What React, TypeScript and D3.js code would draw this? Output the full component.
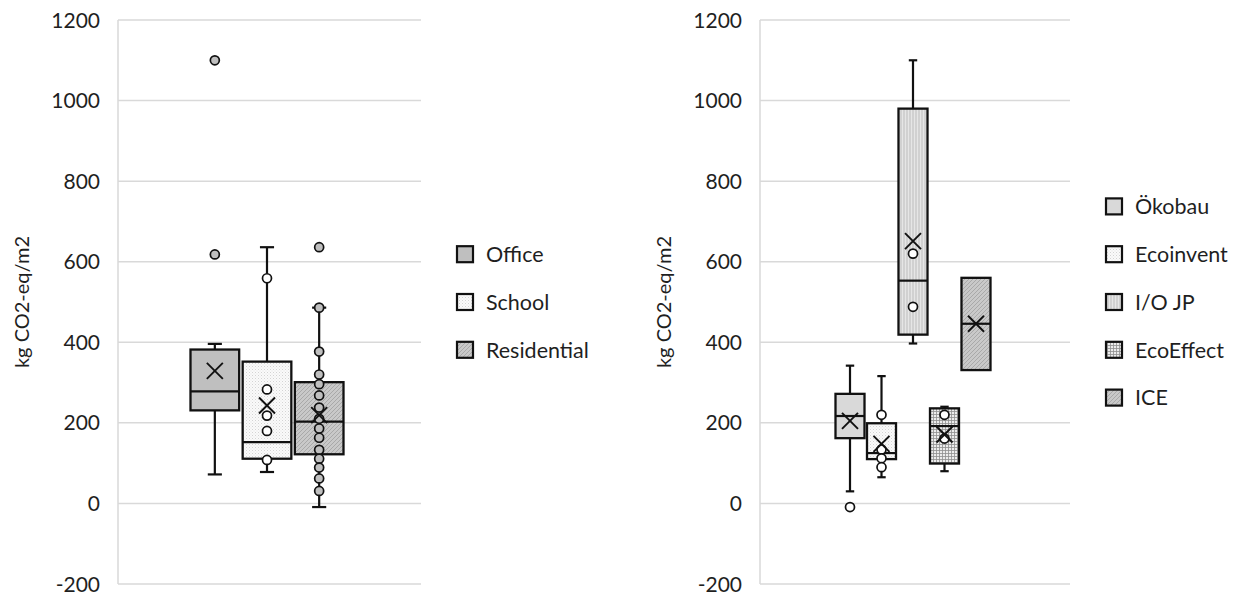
import React from "react";
import * as d3 from "d3";

// ---------- DATA ----------
const yTicks = [-200, 0, 200, 400, 600, 800, 1000, 1200];
const axisTitle = "kg CO2-eq/m2";

// Left chart: building types
const leftSeries = ["Office", "School", "Residential"];
const leftLow = [72, 78, -9];
const leftQ1 = [231, 111, 122];
const leftMedian = [278, 152, 203];
const leftQ3 = [382, 352, 301];
const leftHigh = [396, 636, 486];
const leftMean = [329, 243, 219];
const leftPoints = [
  [618, 1100],
  [559, 283, 218, 180, 108],
  [636, 486, 377, 320, 296, 268, 238, 210, 186, 163, 133, 111, 89, 62, 31],
];
const leftFills = ["solid-mid", "dots", "diag"];
const leftMarkerFill = ["#bfbfbf", "#ffffff", "#bfbfbf"];

// Right chart: databases
const rightSeries = ["Ökobau", "Ecoinvent", "I/O JP", "EcoEffect", "ICE"];
const rightLow = [30, 65, 397, 80, 331];
const rightQ1 = [162, 110, 419, 99, 331];
const rightMedian = [217, 125, 553, 192, 446];
const rightQ3 = [272, 199, 980, 236, 560];
const rightHigh = [342, 316, 1100, 240, 560];
const rightMean = [205, 148, 651, 171, 446];
const rightPoints = [
  [-9],
  [220, 134, 112, 90],
  [620, 488],
  [220, 161],
  [],
];
const rightFills = ["solid-light", "dots", "vert", "grid", "diag"];
const rightMarkerFill = ["#ffffff", "#ffffff", "#ffffff", "#ffffff", "#ffffff"];

// ---------- LAYOUT ----------
const W = 1241;
const H = 599;
const FONT = "Lato, 'Open Sans', sans-serif";
const TEXT = "#1f1f1f";

const y = d3.scaleLinear().domain([-200, 1200]).range([584, 20]);

type PanelProps = {
  plotLeft: number;
  plotRight: number;
  boxRange: [number, number];
  padInner: number;
  legendX: number;
  names: string[];
  low: number[];
  q1: number[];
  median: number[];
  q3: number[];
  high: number[];
  mean: number[];
  points: number[][];
  fills: string[];
  markerFill: string[];
};

function Panel(p: PanelProps) {
  const x = d3.scaleBand<string>().domain(p.names).range(p.boxRange).paddingInner(p.padInner).paddingOuter(0);
  const bw = x.bandwidth();
  const cap = bw * 0.29;
  const legendY = d3
    .scalePoint<string>()
    .domain(p.names)
    .range([302 - ((p.names.length - 1) * 47.8) / 2, 302 + ((p.names.length - 1) * 47.8) / 2]);
  return (
    <g>
      {yTicks.map((t) => (
        <line key={"g" + t} x1={p.plotLeft} x2={p.plotRight} y1={y(t)} y2={y(t)} stroke="#d9d9d9" strokeWidth={1.5} />
      ))}
      <line x1={p.plotLeft} x2={p.plotLeft} y1={y(1200)} y2={y(-200)} stroke="#d9d9d9" strokeWidth={1.5} />
      {yTicks.map((t) => (
        <text
          key={"t" + t}
          x={p.plotLeft - 18}
          y={y(t)}
          dy="0.36em"
          textAnchor="end"
          fontFamily={FONT}
          fontSize={21}
          fill={TEXT}
        >
          {t}
        </text>
      ))}
      <text
        transform={`translate(${p.plotLeft - 96},${(y(1200) + y(-200)) / 2}) rotate(-90)`}
        textAnchor="middle"
        dy="0.35em"
        fontFamily={FONT}
        fontSize={20}
        fill={TEXT}
      >
        {axisTitle}
      </text>
      {p.names.map((n, i) => {
        const x0 = x(n)!;
        const cx = x0 + bw / 2;
        return (
          <g key={n}>
            {p.high[i] > p.q3[i] && (
              <g>
                <line x1={cx} x2={cx} y1={y(p.q3[i])} y2={y(p.high[i])} stroke="#111" strokeWidth={2.2} />
                <line x1={cx - cap / 2} x2={cx + cap / 2} y1={y(p.high[i])} y2={y(p.high[i])} stroke="#111" strokeWidth={2.2} />
              </g>
            )}
            {p.low[i] < p.q1[i] && (
              <g>
                <line x1={cx} x2={cx} y1={y(p.q1[i])} y2={y(p.low[i])} stroke="#111" strokeWidth={2.2} />
                <line x1={cx - cap / 2} x2={cx + cap / 2} y1={y(p.low[i])} y2={y(p.low[i])} stroke="#111" strokeWidth={2.2} />
              </g>
            )}
            <rect
              x={x0}
              y={y(p.q3[i])}
              width={bw}
              height={y(p.q1[i]) - y(p.q3[i])}
              fill={`url(#${p.fills[i]})`}
              stroke="#111"
              strokeWidth={2.3}
            />
            <line x1={x0} x2={x0 + bw} y1={y(p.median[i])} y2={y(p.median[i])} stroke="#111" strokeWidth={2.2} />
            {p.points[i].map((v, j) => (
              <circle key={j} cx={cx} cy={y(v)} r={4.5} fill={p.markerFill[i]} stroke="#111" strokeWidth={1.7} />
            ))}
            <g stroke="#111" strokeWidth={1.9}>
              <line x1={cx - 8} x2={cx + 8} y1={y(p.mean[i]) - 8} y2={y(p.mean[i]) + 8} />
              <line x1={cx - 8} x2={cx + 8} y1={y(p.mean[i]) + 8} y2={y(p.mean[i]) - 8} />
            </g>
          </g>
        );
      })}
      {p.names.map((n, i) => {
        const ly = legendY(n)!;
        return (
          <g key={"l" + n}>
            <rect x={p.legendX} y={ly - 8} width={16} height={16} fill={`url(#${p.fills[i]})`} stroke="#111" strokeWidth={2.2} />
            <text x={p.legendX + 29} y={ly} dy="0.36em" fontFamily={FONT} fontSize={21.5} fill={TEXT}>
              {n}
            </text>
          </g>
        );
      })}
    </g>
  );
}

export default function App() {
  return (
    <svg
      width={W}
      height={H}
      viewBox={`0 0 ${W} ${H}`}
      style={{ position: "absolute", left: 0, top: 0, background: "#fff", display: "block" }}
    >
      <defs>
        <pattern id="solid-mid" width={4} height={4} patternUnits="userSpaceOnUse">
          <rect width={4} height={4} fill="#bfbfbf" />
        </pattern>
        <pattern id="solid-light" width={4} height={4} patternUnits="userSpaceOnUse">
          <rect width={4} height={4} fill="#d9d9d9" />
        </pattern>
        <pattern id="dots" width={3} height={3} patternUnits="userSpaceOnUse">
          <rect width={3} height={3} fill="#fafafa" />
          <rect x={0} y={0} width={1} height={1} fill="#d4d4d4" />
          <rect x={1.5} y={1.5} width={1} height={1} fill="#e2e2e2" />
        </pattern>
        <pattern id="diag" width={4} height={4} patternUnits="userSpaceOnUse">
          <rect width={4} height={4} fill="#c9c9c9" />
          <path d="M-1,1 L1,-1 M0,4 L4,0 M3,5 L5,3" stroke="#a9a9a9" strokeWidth={1} />
        </pattern>
        <pattern id="vert" width={3} height={3} patternUnits="userSpaceOnUse">
          <rect width={3} height={3} fill="#e6e6e6" />
          <line x1={1} x2={1} y1={0} y2={3} stroke="#bcbcbc" strokeWidth={1} />
        </pattern>
        <pattern id="grid" width={3} height={3} patternUnits="userSpaceOnUse">
          <rect width={3} height={3} fill="#ececec" />
          <line x1={0.5} x2={0.5} y1={0} y2={3} stroke="#8f8f8f" strokeWidth={0.8} />
          <line x1={0} x2={3} y1={0.5} y2={0.5} stroke="#8f8f8f" strokeWidth={0.8} />
        </pattern>
      </defs>
      <Panel
        plotLeft={118}
        plotRight={421}
        boxRange={[190.5, 343.5]}
        padInner={0.067}
        legendX={457}
        names={leftSeries}
        low={leftLow}
        q1={leftQ1}
        median={leftMedian}
        q3={leftQ3}
        high={leftHigh}
        mean={leftMean}
        points={leftPoints}
        fills={leftFills}
        markerFill={leftMarkerFill}
      />
      <Panel
        plotLeft={760}
        plotRight={1070}
        boxRange={[835.5, 990.5]}
        padInner={0.079}
        legendX={1106}
        names={rightSeries}
        low={rightLow}
        q1={rightQ1}
        median={rightMedian}
        q3={rightQ3}
        high={rightHigh}
        mean={rightMean}
        points={rightPoints}
        fills={rightFills}
        markerFill={rightMarkerFill}
      />
    </svg>
  );
}
